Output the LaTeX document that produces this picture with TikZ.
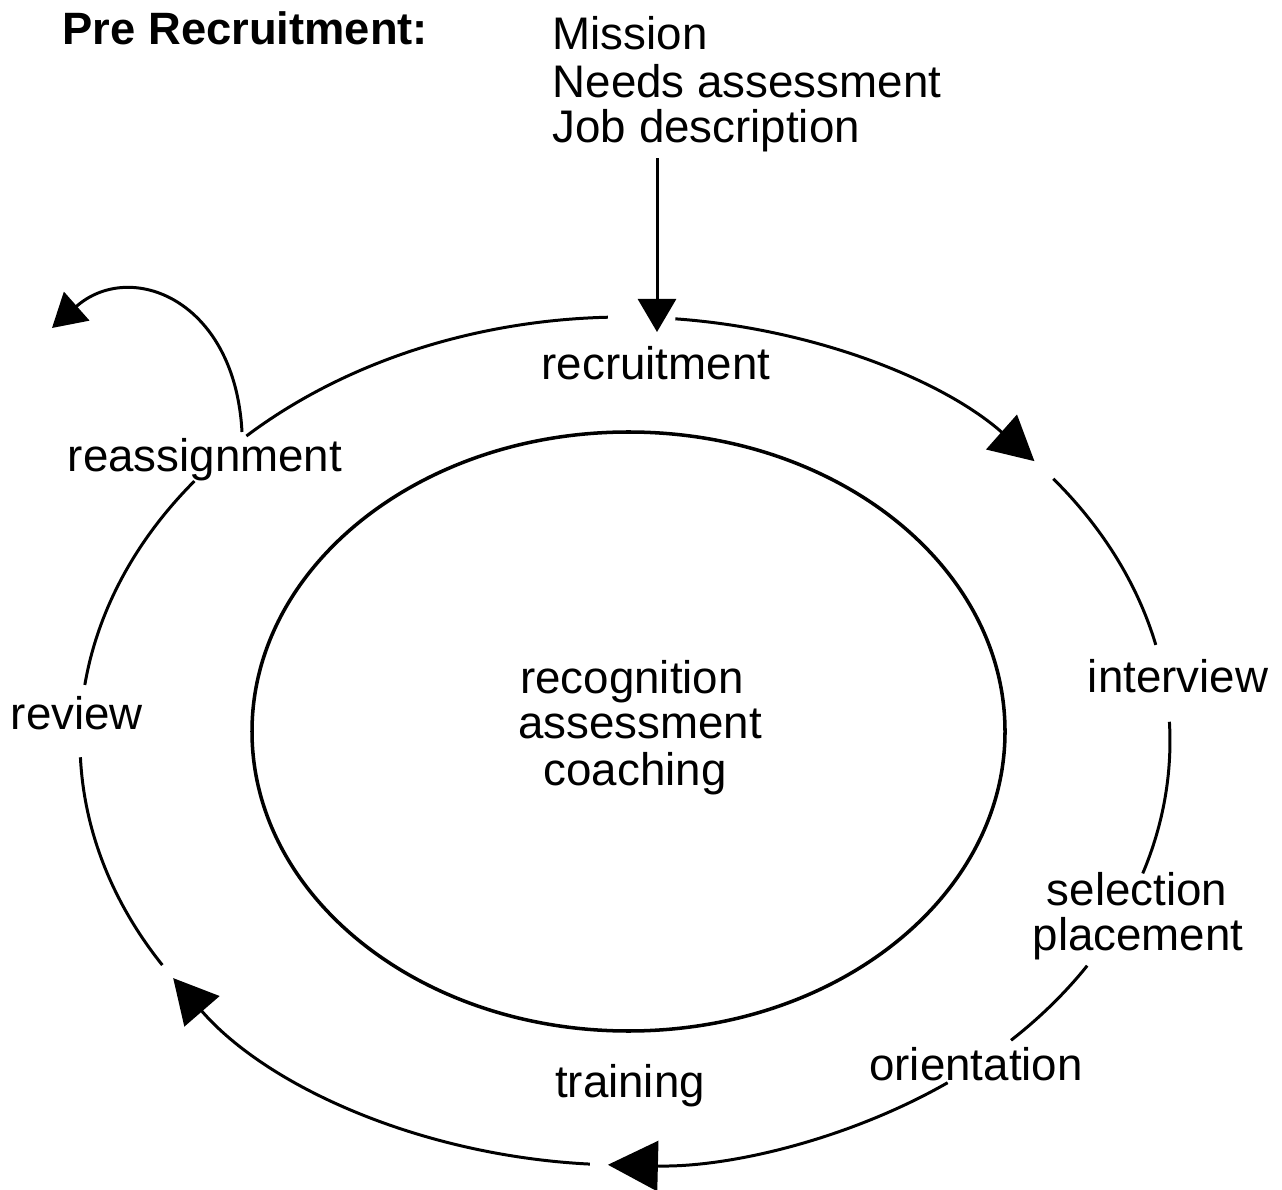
\documentclass[tikz,border=0pt]{standalone}
\usepackage{fontspec}
\setmainfont{Liberation Sans}
\usetikzlibrary{arrows.meta,calc}
% piece of the outer ring between two parametric angles
\def\ringarc[#1](#2:#3){\draw[#1] ($(ring)+({5.45*cos(#2)},{4.24*sin(#2)})$) arc (#2:#3:5.45 and 4.24);}

\begin{document}
\begin{tikzpicture}[
    lbl/.style={inner sep=0pt, anchor=base, font=\fontsize{13}{15}\selectfont},
    ringline/.style={line width=0.85pt},
    ringtip/.style={ringline, -{Triangle[length=4.4mm,width=4.6mm]}},
    bigtip/.style={ringline, -{Triangle[length=5mm,width=5mm]}},
    feed/.style={line width=0.85pt, -{Triangle[length=3.3mm,width=3.8mm]}}
  ]
			%%%%% START %%%%%
			\useasboundingbox (0,0) rectangle (12.82,11.89);
			
			\coordinate (ring) at (6.25,4.48);
			\coordinate (top) at (6.57,8.57);
			
			% header
			\node[lbl, anchor=base west, font=\bfseries\fontsize{12.9}{15}\selectfont] (pre) at (0.62,11.44) {Pre Recruitment:};
			\node[lbl, anchor=base west] (mission) at (5.52,11.39) {Mission};
			\node[lbl, anchor=base west] (needs) at (5.52,10.91) {Needs assessment};
			\node[lbl, anchor=base west] (jobdesc) at (5.52,10.46) {Job description};
			
			\draw[feed, shorten <=0.5mm] (top |- jobdesc.south) -- (top);
			
			% stages round the ring
			\node[lbl] (recruit) at (6.56,8.09) {recruitment};
			\node[lbl] (interview) at (11.78,4.96) {interview};
			\node[lbl] (select) at (11.37,2.84) {selection};
			\node[lbl] (place) at (11.38,2.39) {placement};
			\node[lbl] (orient) at (9.76,1.09) {orientation};
			\node[lbl] (train) at (6.30,0.92) {training};
			\node[lbl] (review) at (0.77,4.59) {review};
			\node[lbl] (reassign) at (2.05,7.17) {reassignment};
			
			% core
			\draw[line width=1pt] (6.285,4.575) ellipse (3.765 and 2.995);
			\node[lbl] (recog) at (6.32,4.95) {recognition};
			\node[lbl] (assess) at (6.40,4.51) {assessment};
			\node[lbl] (coach) at (6.35,4.04) {coaching};
			
			% outer ring, clockwise
			\ringarc[ringtip](84.7:41.3)
			\ringarc[ringline](38.2:13.1)
			\ringarc[ringline](2.6:-18.2)
			\ringarc[ringline](-32:-44.9)
			\ringarc[bigtip](-53.7:-91.8)
			\ringarc[ringtip](266.3:214)
			\ringarc[ringline](211.9:182.2)
			\ringarc[ringline](172.4:142.2)
			\ringarc[ringline](134:91.8)
			
			% way out of the ring
			\coordinate (swing) at (2.42,7.57);
			\coordinate (back) at (0.52,8.61);
			\draw[feed] (swing) .. controls (2.35,8.9) and (1.3,9.3) .. (back);
			
			%%%%% END %%%%%
\end{tikzpicture}
\end{document}
